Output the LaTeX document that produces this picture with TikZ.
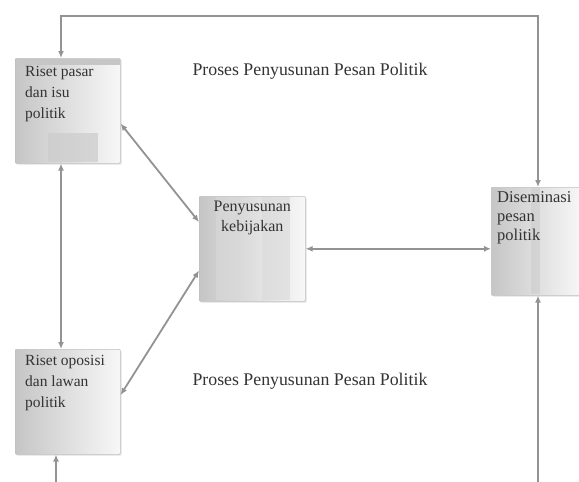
\documentclass[tikz,border=0pt]{standalone}
\usepackage{fontspec}
\setmainfont{Liberation Serif}
\usepackage{tikz}
\usetikzlibrary{calc, positioning, arrows.meta, shadows}

\begin{document}
\begin{tikzpicture}[x=1pt, y=-1pt]
		\tikzstyle{box}=[draw=gray!50, line width=0.6pt, rounded corners=1pt, left color=gray!45, right color=gray!6, drop shadow={shadow xshift=1.5pt, shadow yshift=-1.5pt, fill=gray!30}, inner sep=0pt, anchor=north west]
		\tikzstyle{boxtext}=[text=black!80, font=\fontsize{15.5}{21}\selectfont, inner sep=0pt, anchor=north west, align=left]
		\tikzstyle{link}=[draw=gray!85, line width=1.8pt, -{Latex[length=7pt,width=6pt]}]
		\tikzstyle{links}=[link, {Latex[length=7pt,width=6pt]}-{Latex[length=7pt,width=6pt]}]
		
		\useasboundingbox (0,0) rectangle (579,482);
		\fill[white] (0,0) rectangle (579,482);
		
		% boxes
		\node (pasar) at (15,58) [box, minimum width=105pt, minimum height=105pt] {};
		\fill[gray!45] (15.5,58.5) rectangle (119.5,65);
		\fill[gray!40, opacity=0.7] (48,133) rectangle (98,162);
		\node (pasarT) at (25,66) [boxtext] {Riset pasar\\dan isu\\politik};
		
		\node (oposisi) at (15,349) [box, minimum width=105pt, minimum height=105pt] {};
		\node (oposisiT) at (25,355) [boxtext] {Riset oposisi\\dan lawan\\politik};
		
		\node (kebijakan) at (199,196) [box, minimum width=106pt, minimum height=105pt] {};
		\fill[gray!30, opacity=0.6] (216,197) rectangle (238,300);
		\fill[gray!30, opacity=0.6] (262,197) rectangle (290,300);
		\node (kebijakanT) at (kebijakan.north) [boxtext, anchor=north, align=center, yshift=-5pt, font=\fontsize{16}{20}\selectfont] {Penyusunan\\kebijakan};
		
		\node (disem) at (491,187) [box, minimum width=90pt, minimum height=108pt] {};
		\fill[gray!40, opacity=0.6] (531,188) rectangle (540,294);
		\node (disemT) at (497,191) [boxtext, font=\fontsize{16.5}{19}\selectfont] {Diseminasi\\pesan\\politik};
		
		% titles
		\node (judulA) at (310,71) [text=black!80, font=\fontsize{17.8}{20}\selectfont] {Proses Penyusunan Pesan Politik};
		\node (judulB) at (310,381) [text=black!80, font=\fontsize{17.8}{20}\selectfont] {Proses Penyusunan Pesan Politik};
		
		% connectors
		\coordinate (topL) at (61,16);
		\coordinate (topR) at (538,16);
		\coordinate (botL) at (56,482);
		\coordinate (botR) at (538,482);
		
		\draw[links] (topL |- pasar.north) -- (topL) -- (topR) -- (topR |- disem.north);
		\draw[links] (topL |- pasar.south) -- (topL |- oposisi.north);
		\draw[link] (botL) -- (botL |- oposisi.south);
		\draw[link] (botR) -- (botR |- disem.south);
		\draw[links] ([yshift=40pt]pasar.south east) -- ([yshift=-26pt]kebijakan.north west);
		\draw[links] ([yshift=31pt]kebijakan.south west) -- ([yshift=-46pt]oposisi.north east);
		\draw[links] (kebijakan.east) -- (kebijakan.east -| disem.west);
		
		\end{tikzpicture}
\end{document}
